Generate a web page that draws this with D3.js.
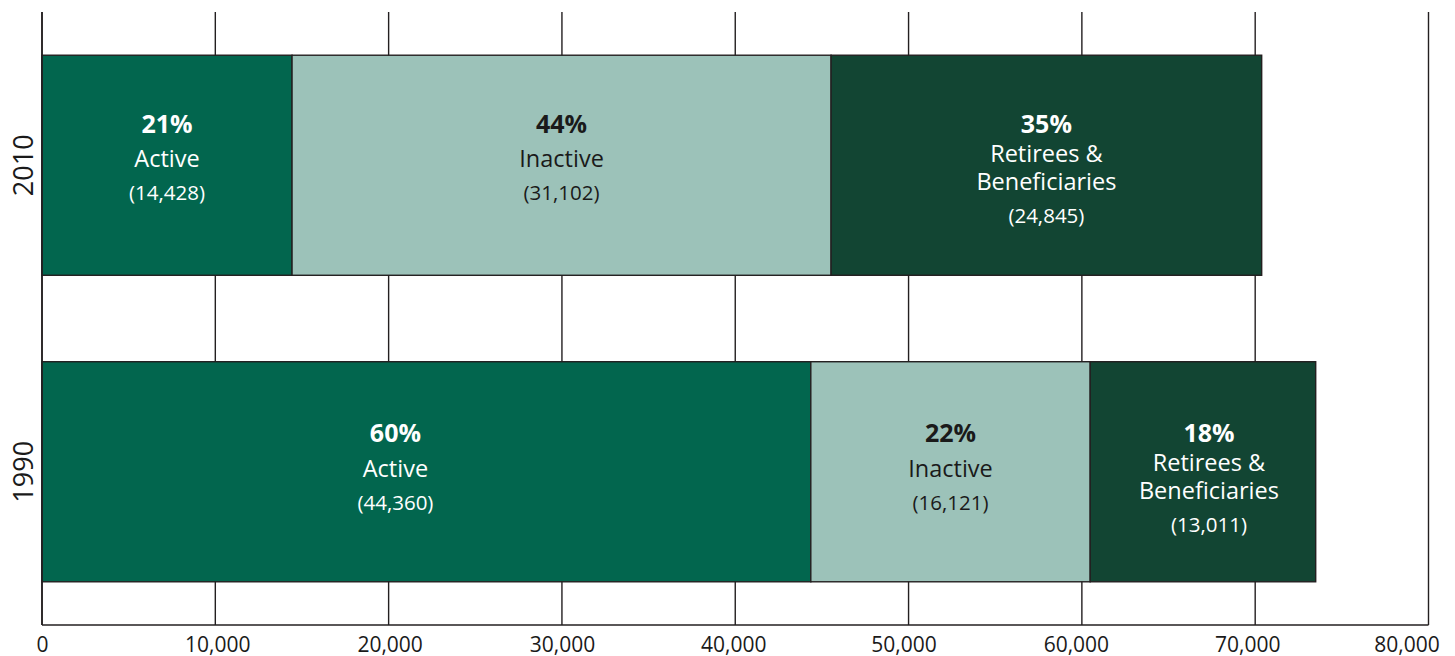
<!DOCTYPE html>
<html>
<head>
<meta charset="utf-8">
<script src="https://cdn.jsdelivr.net/npm/d3@7"></script>
<style>
  html, body { margin: 0; padding: 0; background: #fff; }
  svg { display: block; }
  text { font-family: "Open Sans", "Noto Sans", sans-serif; }
</style>
</head>
<body>
<svg id="chart" width="1455" height="656"></svg>
<script>
// ---- data ----
const years = ["2010", "1990"];
const categories = ["Active", "Inactive", "Retirees & Beneficiaries"];
const values2010 = [14428, 31102, 24845];
const values1990 = [44360, 16121, 13011];
const percents2010 = ["21%", "44%", "35%"];
const percents1990 = ["60%", "22%", "18%"];
const xTickValues = [0, 10000, 20000, 30000, 40000, 50000, 60000, 70000, 80000];

// ---- layout / style (not data) ----
const colors = ["#02664e", "#9cc2b9", "#124533"];
const textColors = ["#ffffff", "#1a1a1a", "#ffffff"];
const nameLines = { "Active": ["Active"], "Inactive": ["Inactive"],
  "Retirees & Beneficiaries": ["Retirees &", "Beneficiaries"] };
const labelNudge = { "1990|Active": -31, "1990|Retirees & Beneficiaries": 6 };
const tickNudge = [0, 2, 1, 0, -2, -5, -6, -8, -22];
const stroke = "#231f20";

const svg = d3.select("#chart");
const mLeft = 42, mRight = 1428.5, mTop = 12, mBottom = 625;

const x = d3.scaleLinear().domain([0, 80000]).range([mLeft, mRight]);
const y = d3.scaleBand().domain(years).range([mTop, mBottom]).paddingInner(0.282).paddingOuter(0.141);

const valuesByYear = { "2010": values2010, "1990": values1990 };
const pctByYear = { "2010": percents2010, "1990": percents1990 };

// gridlines
svg.append("g").selectAll("line").data(xTickValues).join("line")
  .attr("x1", d => x(d)).attr("x2", d => x(d))
  .attr("y1", mTop).attr("y2", mBottom)
  .attr("stroke", stroke).attr("stroke-width", 1.4);

// bottom axis line
svg.append("line").attr("x1", x(0)).attr("x2", x(80000))
  .attr("y1", mBottom).attr("y2", mBottom)
  .attr("stroke", stroke).attr("stroke-width", 1.4);

// tick labels via d3 axis
const xAxis = d3.axisBottom(x).tickValues(xTickValues).tickFormat(d3.format(",")).tickSize(0).tickPadding(0);
const axG = svg.append("g").attr("transform", `translate(0,${mBottom})`).call(xAxis);
axG.select(".domain").remove();
axG.selectAll("text").attr("font-size", 21).attr("fill", "#1a1a1a")
  .attr("dy", null).attr("y", 26.5)
  .attr("x", (d, i) => tickNudge[i])
  .attr("font-family", '"Open Sans", sans-serif');

// stacked segments
const segs = [];
years.forEach(yr => {
  let cum = 0;
  valuesByYear[yr].forEach((v, i) => {
    segs.push({ year: yr, cat: categories[i], i, x0: cum, x1: cum + v, v, pct: pctByYear[yr][i] });
    cum += v;
  });
});

svg.append("g").selectAll("rect").data(segs).join("rect")
  .attr("x", d => x(d.x0)).attr("width", d => x(d.x1) - x(d.x0))
  .attr("y", d => y(d.year)).attr("height", y.bandwidth())
  .attr("fill", d => colors[d.i])
  .attr("stroke", stroke).attr("stroke-width", 1.4);

// labels
const fmt = d3.format(",");
segs.forEach(d => {
  const cx = (x(d.x0) + x(d.x1)) / 2 + (labelNudge[d.year + "|" + d.cat] || 0);
  const cy = y(d.year) + y.bandwidth() / 2 + (d.year === "1990" ? 1.5 : -1.5);
  const lines = nameLines[d.cat];
  const g = svg.append("g").attr("fill", textColors[d.i]).attr("text-anchor", "middle");
  let pctY, nameYs, numY;
  if (lines.length === 1) {
    pctY = cy - 31; nameYs = [cy + 3.5]; numY = cy + 36.5;
  } else {
    pctY = cy - 31; nameYs = [cy - 2, cy + 26]; numY = cy + 59;
  }
  g.append("text").attr("x", cx).attr("y", pctY).attr("font-size", 25)
    .attr("font-weight", 700).text(d.pct);
  lines.forEach((ln, k) => {
    g.append("text").attr("x", cx).attr("y", nameYs[k]).attr("font-size", 23.5).text(ln);
  });
  g.append("text").attr("x", cx).attr("y", numY).attr("font-size", 20.5).text("(" + fmt(d.v) + ")");
});

// year labels (rotated)
const yAxis = d3.axisLeft(y).tickSize(0).tickPadding(0);
const ayG = svg.append("g").attr("transform", `translate(${mLeft},0)`).call(yAxis);
ayG.select(".domain").remove();
ayG.selectAll("text")
  .attr("font-size", 27).attr("fill", "#1a1a1a")
  .attr("font-family", '"Open Sans", sans-serif')
  .attr("text-anchor", "middle").attr("dy", null).attr("x", null)
  .attr("transform", "translate(-9,0) rotate(-90)").attr("y", 0);

// left axis line on top
svg.append("line").attr("x1", x(0)).attr("x2", x(0))
  .attr("y1", mTop).attr("y2", mBottom)
  .attr("stroke", stroke).attr("stroke-width", 1.6);
</script>
</body>
</html>
